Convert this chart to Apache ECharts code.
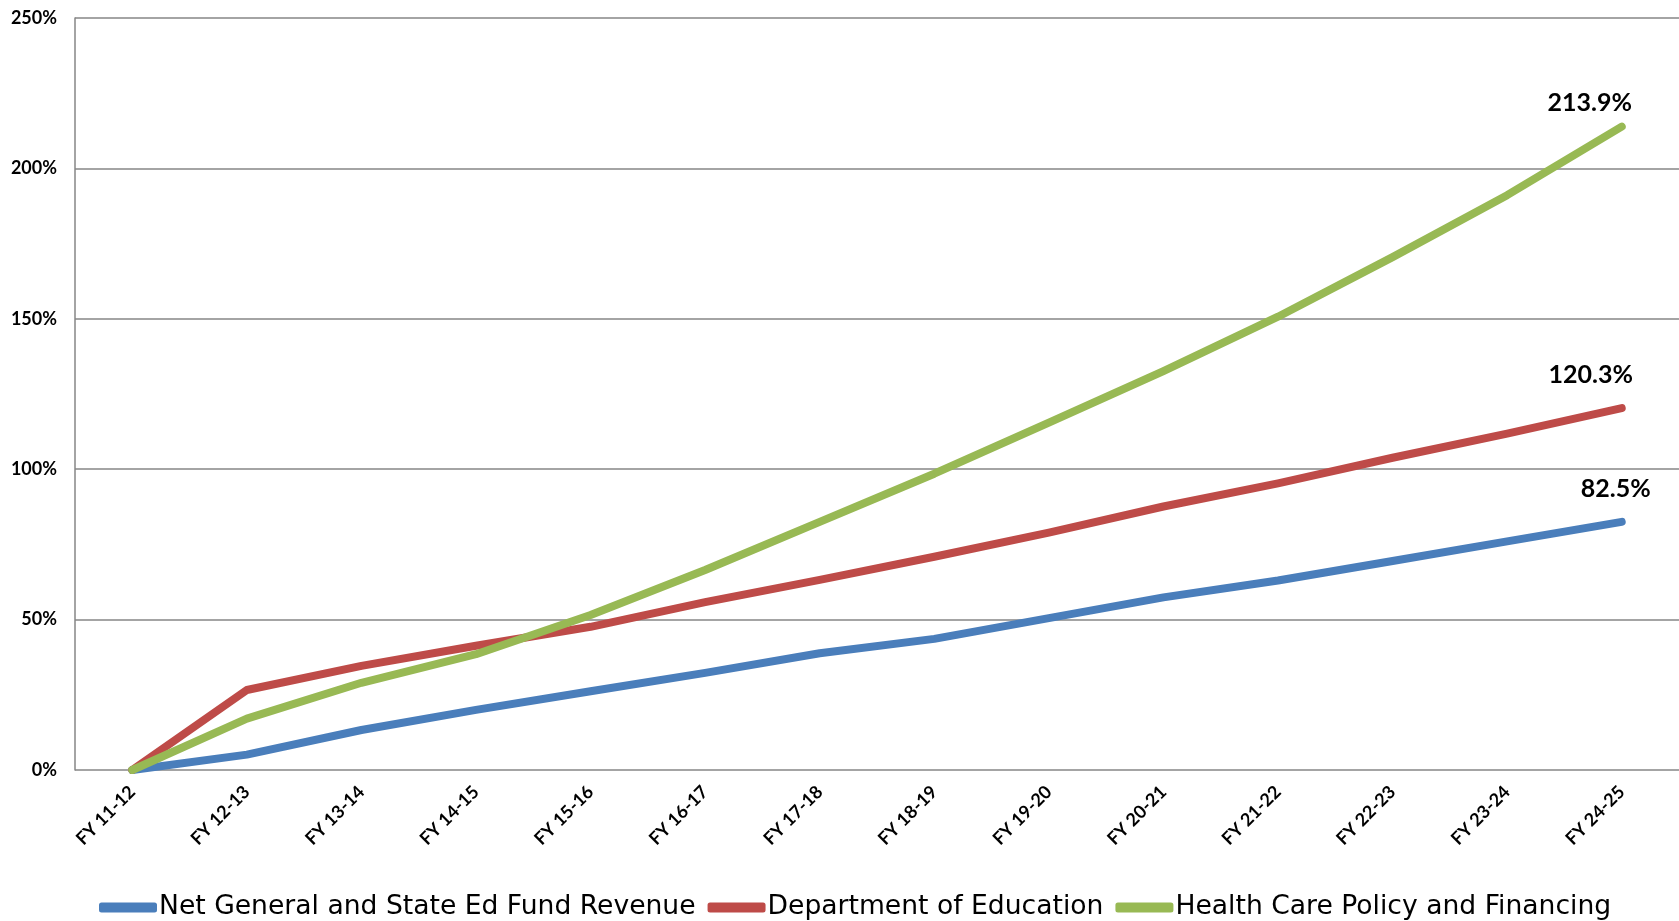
<!DOCTYPE html>
<html>
<head>
<meta charset="utf-8">
<script src="https://cdn.jsdelivr.net/npm/echarts@6/dist/echarts.min.js"></script>
<style>
  html, body { margin: 0; padding: 0; background: #ffffff; }
  #chart { width: 1679px; height: 921px; }
</style>
</head>
<body>
<div id="chart"></div>
<script>
// Fiscal years on the category axis
const fiscalYears = ['FY 11-12', 'FY 12-13', 'FY 13-14', 'FY 14-15', 'FY 15-16', 'FY 16-17', 'FY 17-18',
  'FY 18-19', 'FY 19-20', 'FY 20-21', 'FY 21-22', 'FY 22-23', 'FY 23-24', 'FY 24-25'];

// Cumulative growth since FY 11-12, in percent
const netRevenue = [0, 5.1, 13.3, 20.0, 26.2, 32.3, 38.8, 43.6, 50.5, 57.4, 63.0, 69.5, 76.0, 82.5];
const education = [0, 26.6, 34.6, 41.3, 47.6, 55.8, 63.2, 70.9, 78.9, 87.6, 95.3, 103.8, 111.8, 120.3];
const healthCare = [0, 17.1, 29.0, 38.5, 51.5, 66.5, 82.5, 98.5, 115.5, 132.6, 150.7, 170.5, 191.1, 213.9];

const seriesNames = ['Net General and State Ed Fund Revenue', 'Department of Education', 'Health Care Policy and Financing'];
const seriesColors = ['#4a7ebb', '#be4b48', '#98b954'];
// offsets of the end-value labels, [dx, dy]
const endLabelOffsets = [[-6, -15], [-31, -15], [-32, -6]];

const yTicks = [0, 50, 100, 150, 200, 250];

function buildData(values, idx) {
  return values.map((v, i) => {
    if (i !== values.length - 1) return v;
    return {
      value: v,
      label: {
        show: true,
        position: 'top',
        offset: endLabelOffsets[idx],
        formatter: p => p.value.toFixed(1) + '%',
        fontFamily: 'Lato',
        fontWeight: 'bold',
        fontSize: 25,
        color: '#000000'
      }
    };
  });
}

const chart = echarts.init(document.getElementById('chart'), null, { renderer: 'canvas' });

const allValues = [netRevenue, education, healthCare];

chart.setOption({
  backgroundColor: '#ffffff',
  animation: false,
  grid: { left: 75, right: -3, top: 18, bottom: 151, containLabel: false },
  legend: {
    data: seriesNames,
    left: 94,
    top: 889,
    itemWidth: 58,
    itemHeight: 10,
    itemGap: 12,
    icon: 'roundRect',
    textStyle: { fontFamily: 'DejaVu Sans', fontSize: 26.6, color: '#000000', padding: [0, 0, 0, -3] }
  },
  xAxis: {
    type: 'category',
    data: fiscalYears,
    boundaryGap: true,
    axisLine: { show: false },
    axisTick: { show: false },
    axisLabel: {
      rotate: 45,
      margin: 19,
      interval: 0,
      fontFamily: 'Lato',
      fontWeight: 'bold',
      fontSize: 18,
      color: '#000000'
    },
    splitLine: { show: false }
  },
  yAxis: {
    type: 'value',
    min: yTicks[0],
    max: yTicks[yTicks.length - 1],
    interval: 50,
    axisLine: { show: true, lineStyle: { color: '#868686', width: 1.5 } },
    axisTick: { show: false },
    axisLabel: {
      margin: 18,
      formatter: v => v + '%',
      fontFamily: 'Lato',
      fontWeight: 'bold',
      fontSize: 18,
      color: '#000000'
    },
    splitLine: { show: true, lineStyle: { color: '#868686', width: 1.5 } }
  },
  series: allValues.map((vals, idx) => ({
    name: seriesNames[idx],
    type: 'line',
    data: buildData(vals, idx),
    symbol: 'circle',
    symbolSize: 1,
    showSymbol: true,
    color: seriesColors[idx],
    itemStyle: { color: seriesColors[idx] },
    lineStyle: { width: 8, color: seriesColors[idx], cap: 'round', join: 'round' },
    z: 2 + idx
  }))
});
</script>
</body>
</html>
